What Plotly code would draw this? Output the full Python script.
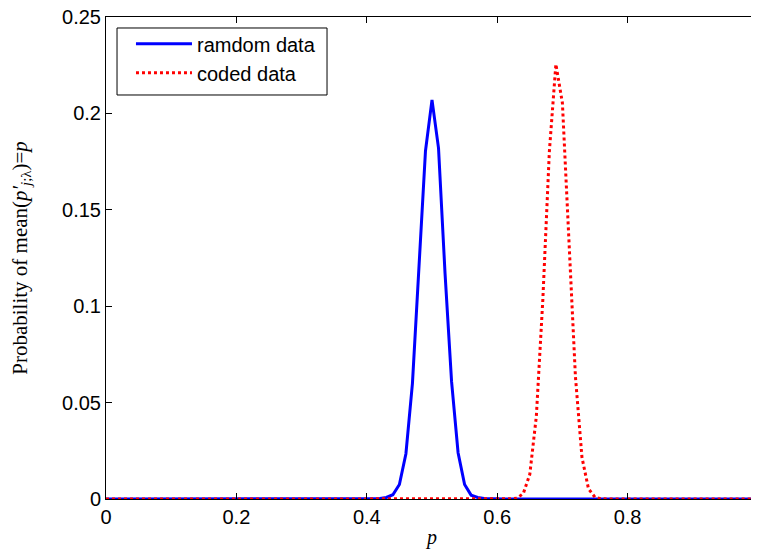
import plotly.graph_objects as go

p_values = [round(i * 0.01, 2) for i in range(101)]

# random data: nonzero part (p from 0.41 to 0.59)
random_nonzero = {
    0.41: 0.0001, 0.42: 0.0003, 0.43: 0.0008, 0.44: 0.0022, 0.45: 0.0075,
    0.46: 0.0235, 0.47: 0.0600, 0.48: 0.1180, 0.49: 0.1805, 0.50: 0.2070,
    0.51: 0.1820, 0.52: 0.1170, 0.53: 0.0610, 0.54: 0.0240, 0.55: 0.0075,
    0.56: 0.0020, 0.57: 0.0008, 0.58: 0.0003, 0.59: 0.0001,
}
# coded data: nonzero part (p from 0.62 to 0.76)
coded_nonzero = {
    0.62: 0.0001, 0.63: 0.0004, 0.64: 0.0028, 0.65: 0.0128, 0.66: 0.0428,
    0.67: 0.1035, 0.68: 0.1802, 0.69: 0.2255, 0.70: 0.2054, 0.71: 0.1343,
    0.72: 0.0634, 0.73: 0.0216, 0.74: 0.0053, 0.75: 0.0009, 0.76: 0.0001,
}

random_data = [random_nonzero.get(p, 0.0) for p in p_values]
coded_data = [coded_nonzero.get(p, 0.0) for p in p_values]

x_ticks = [0, 0.2, 0.4, 0.6, 0.8, 1]
x_tick_labels = ["0", "0.2", "0.4", "0.6", "0.8", "1"]
y_ticks = [0, 0.05, 0.1, 0.15, 0.2, 0.25]
y_tick_labels = ["0", "0.05", "0.1", "0.15", "0.2", "0.25"]

fig = go.Figure()
fig.add_trace(go.Scatter(x=p_values, y=random_data, mode="lines", name="ramdom data",
                         line=dict(color="#0000FF", width=3)))
fig.add_trace(go.Scatter(x=p_values, y=coded_data, mode="lines", name="coded data",
                         line=dict(color="#FF0000", width=3, dash="dot")))

axis_common = dict(showline=True, linecolor="black", linewidth=1, mirror="ticks",
                   ticks="inside", ticklen=6, tickcolor="black", showgrid=False,
                   zeroline=False, ticklabeloverflow="allow",
                   tickfont=dict(family="Liberation Sans, Arial", size=20, color="black"))

# legend frame (MATLAB-style box)
fig.add_shape(type="rect", xref="paper", yref="paper",
              x0=0.0169, x1=0.3390, y0=0.8382, y1=0.9772,
              line=dict(color="black", width=1), fillcolor="white", layer="above")

# page body has an 8px margin; figure is sized so the plot sits where the reference has it
fig.update_layout(
    width=751, height=543,
    margin=dict(l=98, r=1, t=9, b=52),
    paper_bgcolor="white", plot_bgcolor="white",
    showlegend=True,
    legend=dict(x=0.0383, y=0.985, xanchor="left", yanchor="top",
                bgcolor="rgba(0,0,0,0)", borderwidth=0,
                font=dict(family="Liberation Sans, Arial", size=20, color="black"),
                itemwidth=56, tracegroupgap=0),
    xaxis=dict(range=[0, 1], tickvals=x_ticks, ticktext=x_tick_labels, automargin="bottom",
               title=dict(text="<i>p</i>", font=dict(family="Liberation Serif, Times New Roman", size=20, color="black"), standoff=2),
               **axis_common),
    yaxis=dict(range=[0, 0.25], tickvals=y_ticks, ticktext=y_tick_labels, automargin="left",
               title=dict(text="Probability of mean(<i>p′</i><sub><i>j</i>;λ</sub>)=<i>p</i>",
                          font=dict(family="Liberation Serif, Times New Roman", size=21, color="black"), standoff=36),
               **axis_common),
)

fig.write_html("out.html")
